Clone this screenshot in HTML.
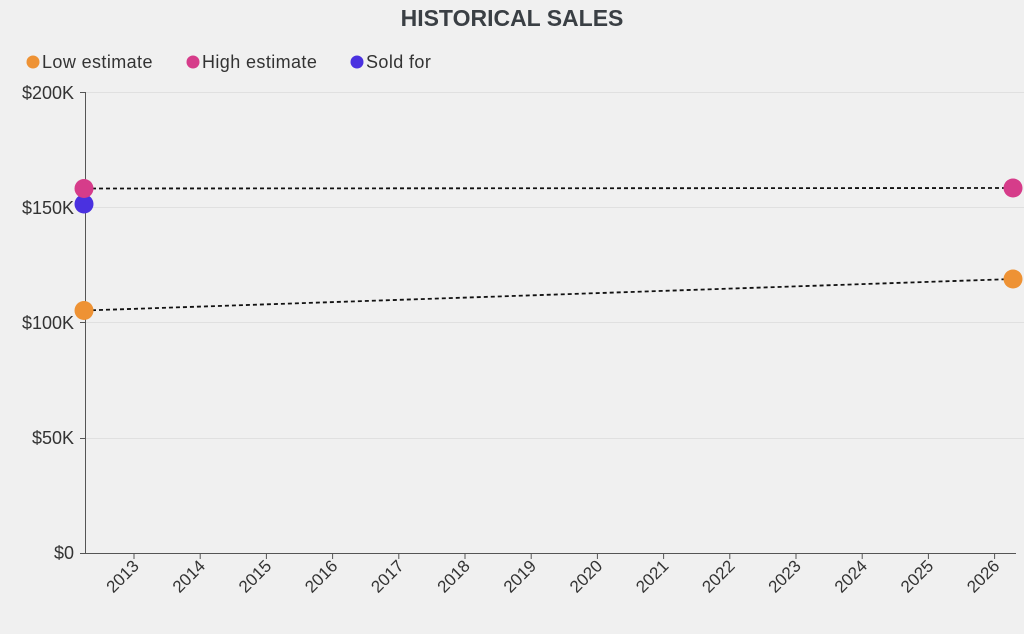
<!DOCTYPE html>
<html><head><style>
body{margin:0;background:#f0f0f0;}
svg{display:block;font-family:"Liberation Sans",sans-serif;}
</style></head><body>
<svg width="1024" height="634" viewBox="0 0 1024 634">
<rect width="1024" height="634" fill="#f0f0f0"/>
<text x="512" y="26" text-anchor="middle" font-size="23" font-weight="bold" fill="#3a3f44">HISTORICAL SALES</text>
<g font-size="18" fill="#333" letter-spacing="0.4">
<circle cx="33" cy="62" r="6.5" fill="#ee9234"/><text x="42" y="68">Low estimate</text>
<circle cx="193" cy="62" r="6.5" fill="#d63c8a"/><text x="202" y="68">High estimate</text>
<circle cx="357" cy="62" r="6.5" fill="#4a31e0"/><text x="366" y="68">Sold for</text>
</g>
<g stroke="#e0e0e0" stroke-width="1">
<line x1="85" x2="1024" y1="92.5" y2="92.5"/>
<line x1="85" x2="1024" y1="207.5" y2="207.5"/>
<line x1="85" x2="1024" y1="322.5" y2="322.5"/>
<line x1="85" x2="1024" y1="438.5" y2="438.5"/>
</g>
<g stroke="#555" stroke-width="1">
<line x1="85.5" y1="92" x2="85.5" y2="554"/>
<line x1="85" y1="553.5" x2="1016" y2="553.5"/>
<line x1="80" x2="85" y1="92.5" y2="92.5"/>
<line x1="80" x2="85" y1="207.5" y2="207.5"/>
<line x1="80" x2="85" y1="322.5" y2="322.5"/>
<line x1="80" x2="85" y1="438.5" y2="438.5"/>
<line x1="80" x2="85" y1="553.5" y2="553.5"/>
</g>
<g font-size="18" fill="#333" text-anchor="end">
<text x="74" y="99">$200K</text>
<text x="74" y="214">$150K</text>
<text x="74" y="329">$100K</text>
<text x="74" y="444">$50K</text>
<text x="74" y="559">$0</text>
</g>
<g font-size="17" fill="#333" text-anchor="end">
<line x1="134" x2="134" y1="553" y2="559" stroke="#555"/><text transform="translate(140,567) rotate(-45)">2013</text>
<line x1="200.2" x2="200.2" y1="553" y2="559" stroke="#555"/><text transform="translate(206.2,567) rotate(-45)">2014</text>
<line x1="266.4" x2="266.4" y1="553" y2="559" stroke="#555"/><text transform="translate(272.4,567) rotate(-45)">2015</text>
<line x1="332.6" x2="332.6" y1="553" y2="559" stroke="#555"/><text transform="translate(338.6,567) rotate(-45)">2016</text>
<line x1="398.8" x2="398.8" y1="553" y2="559" stroke="#555"/><text transform="translate(404.8,567) rotate(-45)">2017</text>
<line x1="465" x2="465" y1="553" y2="559" stroke="#555"/><text transform="translate(471,567) rotate(-45)">2018</text>
<line x1="531.2" x2="531.2" y1="553" y2="559" stroke="#555"/><text transform="translate(537.2,567) rotate(-45)">2019</text>
<line x1="597.4" x2="597.4" y1="553" y2="559" stroke="#555"/><text transform="translate(603.4,567) rotate(-45)">2020</text>
<line x1="663.6" x2="663.6" y1="553" y2="559" stroke="#555"/><text transform="translate(669.6,567) rotate(-45)">2021</text>
<line x1="729.8" x2="729.8" y1="553" y2="559" stroke="#555"/><text transform="translate(735.8,567) rotate(-45)">2022</text>
<line x1="796" x2="796" y1="553" y2="559" stroke="#555"/><text transform="translate(802,567) rotate(-45)">2023</text>
<line x1="862.2" x2="862.2" y1="553" y2="559" stroke="#555"/><text transform="translate(868.2,567) rotate(-45)">2024</text>
<line x1="928.4" x2="928.4" y1="553" y2="559" stroke="#555"/><text transform="translate(934.4,567) rotate(-45)">2025</text>
<line x1="994.6" x2="994.6" y1="553" y2="559" stroke="#555"/><text transform="translate(1000.6,567) rotate(-45)">2026</text>
</g>
<g stroke="#111" stroke-width="1.8" stroke-dasharray="4,3">
<line x1="85" y1="188.5" x2="1013" y2="188"/>
<line x1="85" y1="310.5" x2="1013" y2="279"/>
</g>
<circle cx="84" cy="204" r="9.5" fill="#4a31e0"/>
<circle cx="84" cy="188.5" r="9.5" fill="#d63c8a"/>
<circle cx="84" cy="310.5" r="9.5" fill="#ee9234"/>
<circle cx="1013" cy="188" r="9.5" fill="#d63c8a"/>
<circle cx="1013" cy="279" r="9.5" fill="#ee9234"/>
</svg>
</body></html>
